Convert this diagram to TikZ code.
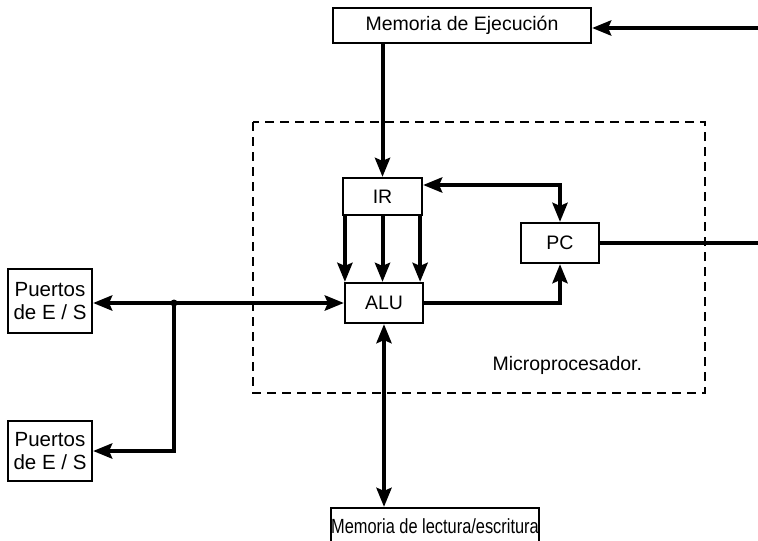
\documentclass[tikz,border=0pt]{standalone}
\usepackage{fontspec}
\setmainfont{Liberation Sans}
\usetikzlibrary{arrows.meta,calc}
\begin{document}
\begin{tikzpicture}[x=1pt,y=-1pt,
  box/.style={draw,line width=2.2pt,rectangle,inner sep=0pt,font=\fontsize{19.5}{22}\selectfont},
  wire/.style={line width=4pt},
  tip/.tip={Stealth[length=19pt,width=15pt,inset=3pt]},
  arr/.style={wire,-tip},
  arrb/.style={wire,tip-tip},
  lbl/.style={font=\fontsize{19.5}{22}\selectfont}]
\useasboundingbox (0,0) rectangle (758,541);
% dashed microprocessor frame
\draw[line width=2.2pt,dash pattern=on 9pt off 6pt] (253,122) rectangle (705,393);
\node[lbl,anchor=west] (micro) at (489,365) {Microprocesador.};
% boxes
\node[box,minimum width=258,minimum height=35] (mem) at (462,25.5) {Memoria de Ejecución};
\node[box,minimum width=79,minimum height=37] (ir) at (382.5,196.5) {IR};
\node[box,minimum width=78,minimum height=40] (alu) at (384,303) {ALU};
\node[box,minimum width=78,minimum height=40] (pc) at (560,243) {PC};
\node[box,minimum width=84,minimum height=64,align=center,font=\fontsize{20.5}{23}\selectfont] (p1) at (50,301) {Puertos\\de E / S};
\node[box,minimum width=84,minimum height=60,align=center,font=\fontsize{20.5}{23}\selectfont] (p2) at (50,451) {Puertos\\de E / S};
\node[box,minimum width=206,minimum height=36] (mrw) at (435,526) {\scalebox{0.84}[1.05]{Memoria de lectura/escritura}};
% coordinates
\coordinate (inR) at (758,28);
\coordinate (outR) at (758,243);
\coordinate (j) at (174,303);
% connectors
\draw[arr] (inR) -- (inR -| mem.east);
\draw[arr] (ir.north |- mem.south) -- (ir.north);
\draw[arr] ([xshift=3pt]ir.south west) -- ([xshift=3pt]ir.south west |- alu.north);
\draw[arr] (ir.south) -- (ir.south |- alu.north);
\draw[arr] ([xshift=-3pt]ir.south east) -- ([xshift=-3pt]ir.south east |- alu.north);
\draw[arrb] ([yshift=11.5pt]ir.east) -| (pc.north);
\draw[arr] (alu.east) -| (pc.south);
\draw[wire] (pc.east) -- (outR);
\draw[arrb] (p1.east |- alu.west) -- (alu.west);
\draw[arr] (j) |- (p2.east);
\fill (j) circle (3.5pt);
\draw[arrb] (alu.south) -- (alu.south |- mrw.north);
\end{tikzpicture}
\end{document}
